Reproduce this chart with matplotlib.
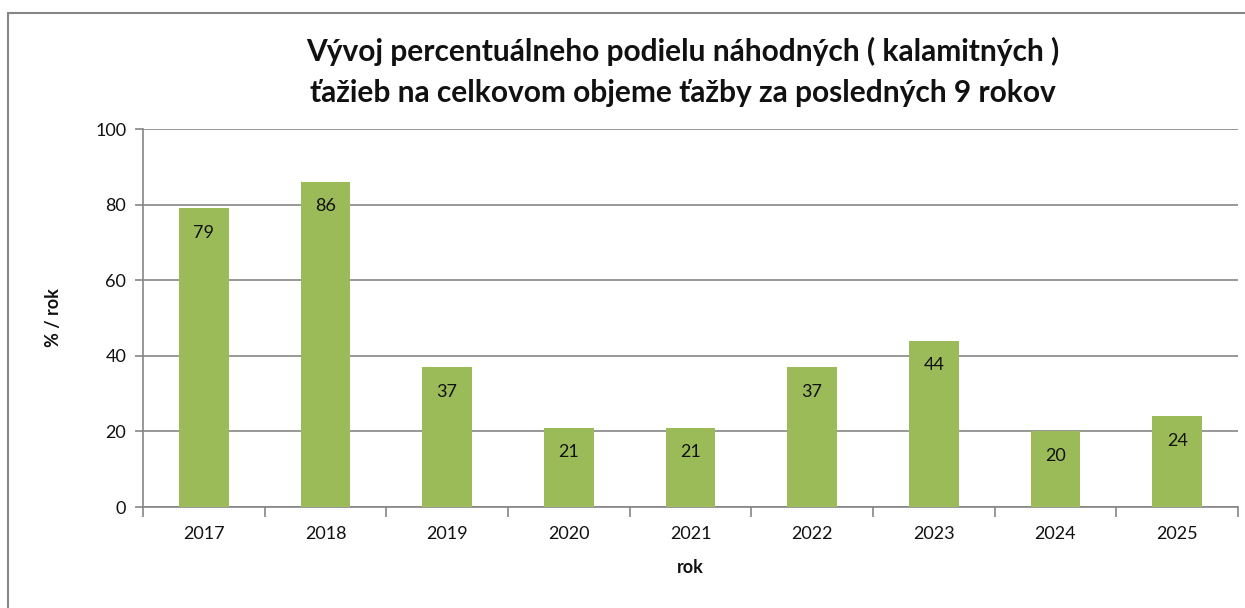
import matplotlib
matplotlib.use("Agg")
import matplotlib.pyplot as plt
from matplotlib.patches import Rectangle

roky = ["2017", "2018", "2019", "2020", "2021", "2022", "2023", "2024", "2025"]
podiel = [79, 86, 37, 21, 21, 37, 44, 20, 24]
y_ticks = [0, 20, 40, 60, 80, 100]

plt.rcParams['font.family'] = ['Lato', 'DejaVu Sans']

W, H = 1245, 608
fig = plt.figure(figsize=(W / 100, H / 100), dpi=100)

# ram okolo celeho grafu (pravy a dolny okraj je mimo obrazka)
fig.patches.append(Rectangle((8 / W, -0.1), 1.2, 1.1 - 13 / H, transform=fig.transFigure,
                             fill=False, edgecolor='#868686', linewidth=1.5))

ax = fig.add_axes([143 / W, 1 - 507 / H, 1095 / W, 378 / H])
x = range(len(roky))
bars = ax.bar(x, podiel, width=0.41, color='#9BBB59', zorder=3)

for b, v in zip(bars, podiel):
    ax.text(b.get_x() + b.get_width() / 2, v - 6.5, str(v), ha='center', va='center',
            fontsize=13, color='#111111', zorder=4)

ax.set_xlim(-0.5, len(roky) - 0.5)
ax.set_ylim(0, 100)
ax.set_yticks(y_ticks)
ax.set_xticks(x)
ax.set_xticklabels(roky)
ax.set_xticks([i + 0.5 for i in range(-1, len(roky))], minor=True)
ax.tick_params(axis='x', which='major', length=0, pad=14, labelsize=13, colors='#111111')
ax.tick_params(axis='x', which='minor', length=7, color='#868686', width=1.2)
ax.tick_params(axis='y', length=6, color='#868686', width=1.2, labelsize=13,
               labelcolor='#111111', pad=6)
ax.grid(axis='y', color='#868686', linewidth=1.2, zorder=0)

for s in ['top', 'right']:
    ax.spines[s].set_visible(False)
for s in ['left', 'bottom']:
    ax.spines[s].set_color('#868686')
    ax.spines[s].set_linewidth(1.2)

ax.set_xlabel('rok', fontsize=13, fontweight='bold', labelpad=12, color='#111111')
ax.set_ylabel('% / rok', fontsize=13, fontweight='bold', labelpad=24, color='#111111')

fig.text(683 / W, 1 - 72 / H,
         'Vývoj percentuálneho podielu náhodných ( kalamitných )\n'
         'ťažieb na celkovom objeme ťažby za posledných 9 rokov',
         ha='center', va='center', fontsize=21.5, fontweight='bold', color='#111111',
         linespacing=1.6)

fig.savefig('out.png', dpi=100)
